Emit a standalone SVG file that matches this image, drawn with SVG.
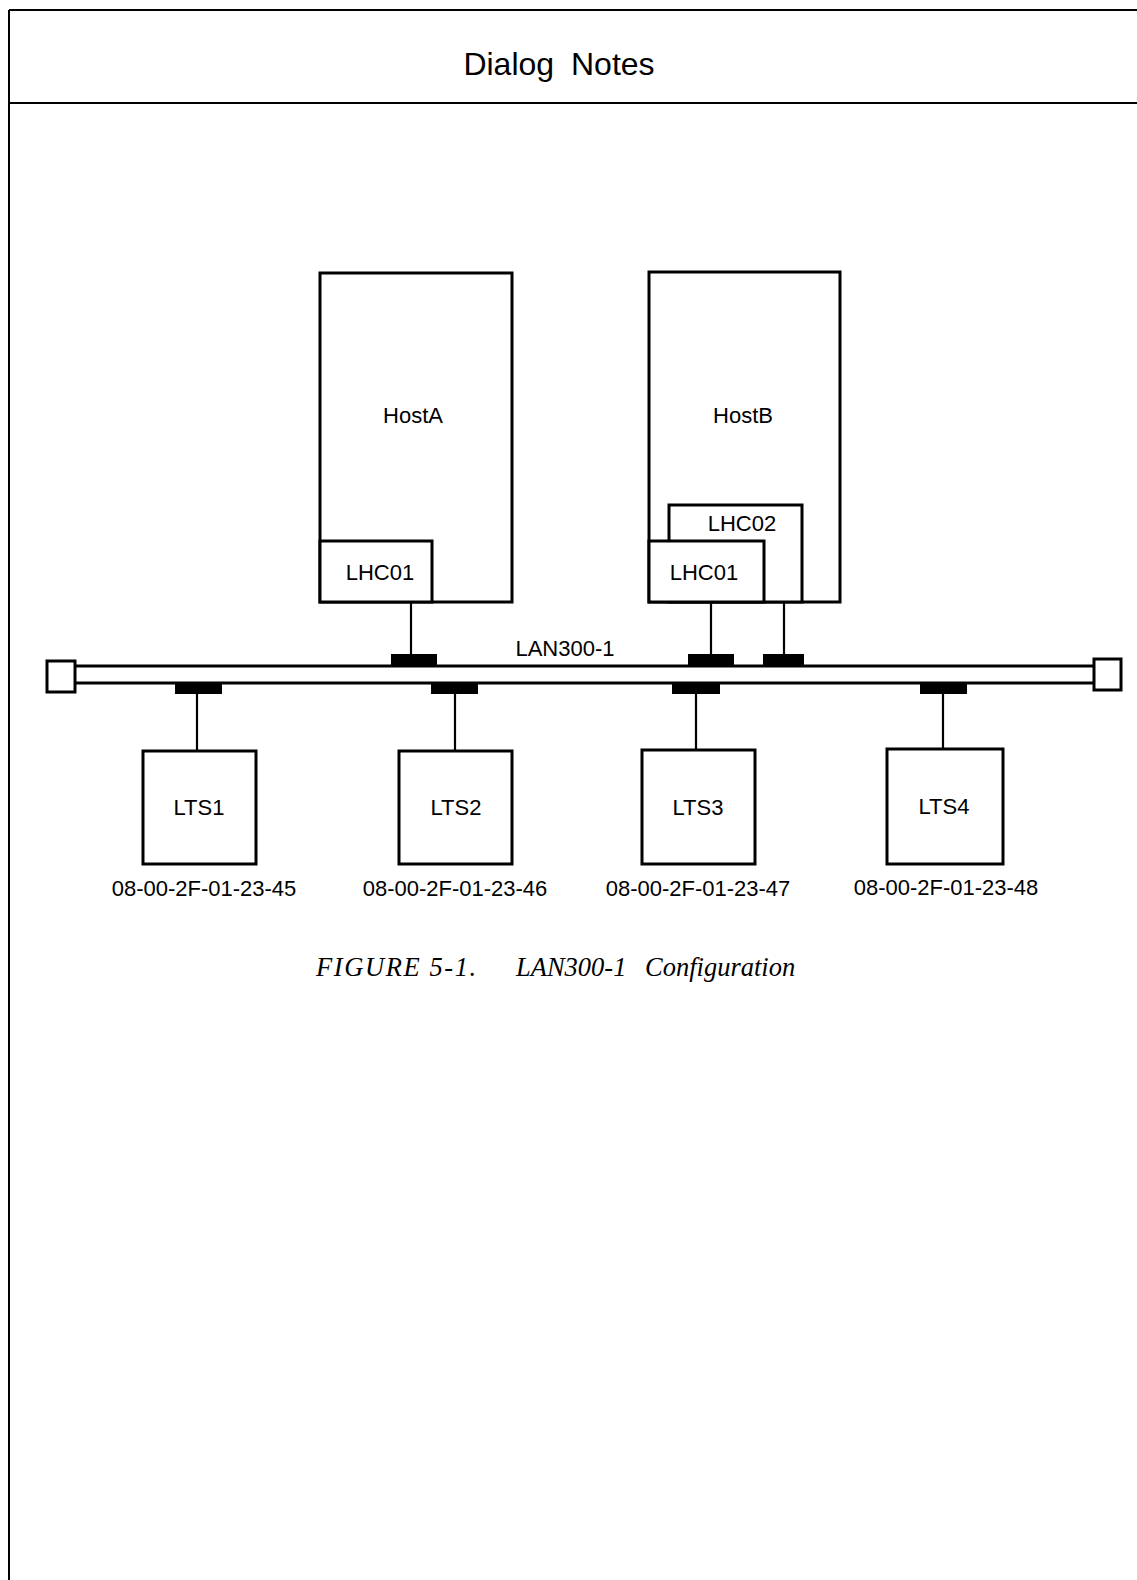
<svg xmlns="http://www.w3.org/2000/svg" width="1137" height="1580" viewBox="0 0 1137 1580">
<style>
.box{fill:#fff;stroke:#000;stroke-width:3}
.lbl{font-family:"Liberation Sans",Arial,sans-serif;font-size:22px;fill:#000;text-anchor:middle}
.tap{fill:#000}
.wire{stroke:#000;stroke-width:2.2;fill:none}
.bus{stroke:#000;stroke-width:3;fill:none}
.cap{font-family:"Liberation Serif","Times New Roman",serif;font-style:italic;font-size:26.5px;fill:#000}
</style>
<rect width="1137" height="1580" fill="#fff"/>
<g id="frame">
<line x1="9" y1="10" x2="1137" y2="10" stroke="#000" stroke-width="2"/>
<line x1="9" y1="10" x2="9" y2="1580" stroke="#000" stroke-width="2"/>
<line x1="9" y1="103" x2="1137" y2="103" stroke="#000" stroke-width="2"/>
<text x="559" y="75" font-family="Liberation Sans,Arial,sans-serif" font-size="32" text-anchor="middle" word-spacing="8">Dialog Notes</text>
</g>
<g id="connectors">
<line class="bus" x1="75" y1="666" x2="1094" y2="666"/>
<line class="bus" x1="75" y1="683" x2="1094" y2="683"/>
<line class="wire" x1="411" y1="602" x2="411" y2="655"/>
<line class="wire" x1="711" y1="602" x2="711" y2="655"/>
<line class="wire" x1="784" y1="602" x2="784" y2="655"/>
<line class="wire" x1="197" y1="693" x2="197" y2="751"/>
<line class="wire" x1="455" y1="693" x2="455" y2="751"/>
<line class="wire" x1="696" y1="693" x2="696" y2="751"/>
<line class="wire" x1="943" y1="693" x2="943" y2="751"/>
<rect class="tap" x="391" y="654" width="46" height="12"/>
<rect class="tap" x="688" y="654" width="46" height="12"/>
<rect class="tap" x="763" y="654" width="41" height="12"/>
<rect class="tap" x="175" y="683" width="47" height="11"/>
<rect class="tap" x="431" y="683" width="47" height="11"/>
<rect class="tap" x="672" y="683" width="48" height="11"/>
<rect class="tap" x="920" y="683" width="47" height="11"/>
<text class="lbl" x="565" y="656">LAN300-1</text>
</g>
<g id="bus-end-left"><rect class="box" x="47" y="661" width="28" height="31"/></g>
<g id="bus-end-right"><rect class="box" x="1094" y="659" width="27" height="31"/></g>
<g id="hostA">
<rect class="box" x="320" y="273" width="192" height="329"/>
<text class="lbl" x="413" y="423">HostA</text>
</g>
<g id="hostA-lhc01">
<rect class="box" x="320" y="541" width="112" height="61"/>
<text class="lbl" x="380" y="580">LHC01</text>
</g>
<g id="hostB">
<rect class="box" x="649" y="272" width="191" height="330"/>
<text class="lbl" x="743" y="423">HostB</text>
</g>
<g id="hostB-lhc02">
<rect class="box" x="669" y="505" width="133" height="97"/>
<text class="lbl" x="742" y="531">LHC02</text>
</g>
<g id="hostB-lhc01">
<rect class="box" x="649" y="541" width="115" height="61"/>
<text class="lbl" x="704" y="580">LHC01</text>
</g>
<g id="lts1">
<rect class="box" x="143" y="751" width="113" height="113"/>
<text class="lbl" x="199" y="815">LTS1</text>
<text class="lbl" x="204" y="896">08-00-2F-01-23-45</text>
</g>
<g id="lts2">
<rect class="box" x="399" y="751" width="113" height="113"/>
<text class="lbl" x="456" y="815">LTS2</text>
<text class="lbl" x="455" y="896">08-00-2F-01-23-46</text>
</g>
<g id="lts3">
<rect class="box" x="642" y="750" width="113" height="114"/>
<text class="lbl" x="698" y="815">LTS3</text>
<text class="lbl" x="698" y="896">08-00-2F-01-23-47</text>
</g>
<g id="lts4">
<rect class="box" x="887" y="749" width="116" height="115"/>
<text class="lbl" x="944" y="814">LTS4</text>
<text class="lbl" x="946" y="895">08-00-2F-01-23-48</text>
</g>
<g id="caption">
<text class="cap" x="316" y="976" letter-spacing="1.6">FIGURE 5-1.</text>
<text class="cap" x="516" y="976">LAN300-1</text>
<text class="cap" x="645" y="976">Configuration</text>
</g>
</svg>
